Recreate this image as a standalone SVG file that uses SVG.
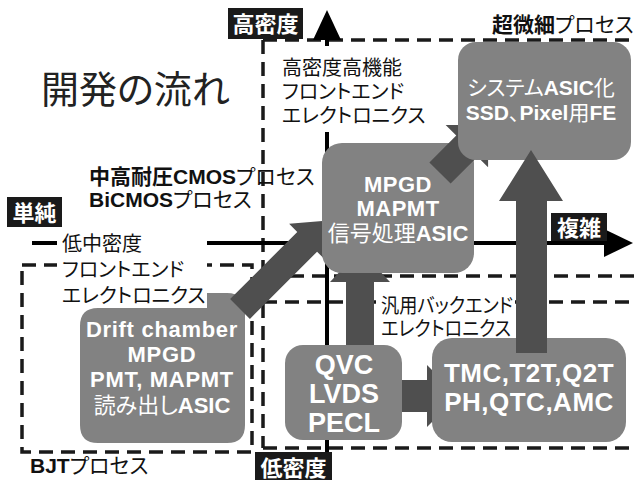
<svg xmlns="http://www.w3.org/2000/svg" width="634" height="480" viewBox="0 0 634 480">
<style>
text{font-family:"Liberation Sans","Noto Sans CJK JP",sans-serif;font-feature-settings:"palt";}
.dash{fill:none;stroke:#1a1a1a;stroke-width:3.5;stroke-dasharray:14 8;}
.axis{fill:none;stroke:#000;stroke-width:4;}
.node{fill:#828282;}
.arr{fill:#4f4f4f;}
.lbl{fill:#1a1a1a;}
.lt{fill:#fff;font-size:22px;font-weight:bold;text-anchor:middle;}
.nt{fill:#fff;font-weight:bold;text-anchor:middle;}
.n{font-weight:normal;}
.b{font-weight:bold;}
.t{fill:#111;font-size:20px;}
.bg{fill:#fff;}
</style>
<rect width="634" height="480" fill="#fff"/>

<g id="regions">
<path class="dash" d="M263,40 H634"/>
<path class="dash" d="M263,40 V448"/>
<path class="dash" d="M268,276 H634"/>
<path class="dash" d="M263,302 H634"/>
<path class="dash" d="M263,448 H634"/>
<path class="dash" d="M22,265 H252 V452 H22 Z"/>
</g>

<g id="axes">
<path class="axis" d="M327,38 V460"/>
<polygon points="327,10 341,40 313,40" fill="#000"/>
<path class="axis" d="M32,243 H606"/>
<polygon points="633,243 604,229 604,257" fill="#000"/>
</g>

<g id="texts">
<text x="41" y="103" style="font-size:38px;fill:#222">開発の流れ</text>
<rect class="bg" x="275" y="46" width="155" height="86"/>
<text class="t" x="282" y="75">高密度高機能</text>
<text class="t" x="282" y="99">フロントエンド</text>
<text class="t" x="282" y="123">エレクトロニクス</text>
<text x="89" y="184" style="font-size:21px;fill:#111"><tspan class="b">中高耐圧CMOS</tspan><tspan class="n">プロセス</tspan></text>
<text x="89" y="207" style="font-size:21px;fill:#111"><tspan class="b">BiCMOS</tspan><tspan class="n">プロセス</tspan></text>
<text x="492" y="32" style="font-size:21px;fill:#111"><tspan class="b">超微細</tspan><tspan class="n">プロセス</tspan></text>
<text x="30" y="473" style="font-size:21px;fill:#111"><tspan class="b">BJT</tspan><tspan class="n">プロセス</tspan></text>
<rect class="bg" x="57" y="230" width="150" height="78"/>
<text class="t" x="62" y="251">低中密度</text>
<text class="t" x="62" y="277">フロントエンド</text>
<text class="t" x="62" y="303">エレクトロニクス</text>
<rect class="bg" x="376" y="289" width="139" height="52"/>
<text class="t" x="381" y="313" textLength="132" lengthAdjust="spacingAndGlyphs">汎用バックエンド</text>
<text class="t" x="381" y="336" textLength="130" lengthAdjust="spacingAndGlyphs">エレクトロニクス</text>
</g>

<g id="labels">
<g id="label-high"><rect class="lbl" x="228" y="8" width="75" height="31"/><text class="lt" x="265.5" y="32">高密度</text></g>
<g id="label-simple"><rect class="lbl" x="7" y="197" width="55" height="30"/><text class="lt" x="34.5" y="221">単純</text></g>
<g id="label-complex"><rect class="lbl" x="551" y="213" width="56" height="28"/><text class="lt" x="579" y="236">複雑</text></g>
<g id="label-low"><rect class="lbl" x="255" y="452" width="77" height="28"/><text class="lt" x="293.5" y="476">低密度</text></g>
</g>

<g id="node-drift">
<path class="node" d="M80,326 Q80,308 98,308 H207 V293 H227 Q245,293 245,311 V425 Q245,443 227,443 H98 Q80,443 80,425 Z"/>
<text class="nt" x="162" y="337" style="font-size:22px;letter-spacing:0.7px">Drift chamber</text>
<text class="nt" x="162" y="362" style="font-size:22px;letter-spacing:0.7px">MPGD</text>
<text class="nt" x="162" y="387" style="font-size:22px;letter-spacing:0.7px">PMT, MAPMT</text>
<text class="nt" x="162" y="413" style="font-size:22px"><tspan class="n">読み出し</tspan>ASIC</text>
</g>

<g id="connectors">
<polygon id="arrow-drift-mpgd" class="arr" points="0,-14 95,-14 95,-25.5 125,0 95,25.5 95,14 0,14" transform="translate(240,309) rotate(-45)"/>
<polygon id="arrow-qvc-mpgd" class="arr" points="346,350 346,282 330,282 360,250 390,282 374,282 374,350"/>
<polygon id="arrow-qvc-tmc" class="arr" points="400,380 427,380 427,365 458,396 427,427 427,412 400,412"/>
</g>

<g id="node-qvc">
<rect class="node" x="285" y="345" width="117" height="95" rx="18"/>
<text class="nt" x="344" y="374" style="font-size:27px">QVC</text>
<text class="nt" x="344" y="403" style="font-size:27px">LVDS</text>
<text class="nt" x="344" y="432" style="font-size:27px">PECL</text>
</g>

<g id="node-mpgd">
<rect class="node" x="322" y="143" width="152" height="130" rx="20"/>
<text class="nt" x="398" y="192" style="font-size:22px;letter-spacing:0.5px">MPGD</text>
<text class="nt" x="398" y="216" style="font-size:22px;letter-spacing:0.5px">MAPMT</text>
<text class="nt" x="398" y="241" style="font-size:22px"><tspan class="n">信号処理</tspan>ASIC</text>
</g>

<g id="node-tmc">
<rect class="node" x="432" y="338" width="194" height="104" rx="20"/>
<text class="nt" x="529" y="382" style="font-size:26px;letter-spacing:0.5px">TMC,T2T,Q2T</text>
<text class="nt" x="529" y="411" style="font-size:26px;letter-spacing:0.5px">PH,QTC,AMC</text>
</g>

<g id="connectors-upper">
<polygon id="arrow-mpgd-ssd" class="arr" points="0,-15 38,-15 38,-30 68,0 38,30 38,15 0,15" transform="translate(440,173) rotate(-45)"/>
</g>

<g id="node-ssd">
<rect class="node" x="458" y="42" width="173" height="118" rx="18"/>
<text class="nt" x="541" y="95" style="font-size:21px"><tspan class="n">システム</tspan>ASIC<tspan class="n">化</tspan></text>
<text class="nt" x="541" y="120" style="font-size:21px">SSD<tspan class="n">、</tspan>Pixel<tspan class="n">用</tspan>FE</text>
</g>

<g id="connectors-top">
<polygon id="arrow-tmc-ssd" class="arr" points="516,353 516,201 499,201 531,150 563,201 547,201 547,353"/>
</g>
</svg>
